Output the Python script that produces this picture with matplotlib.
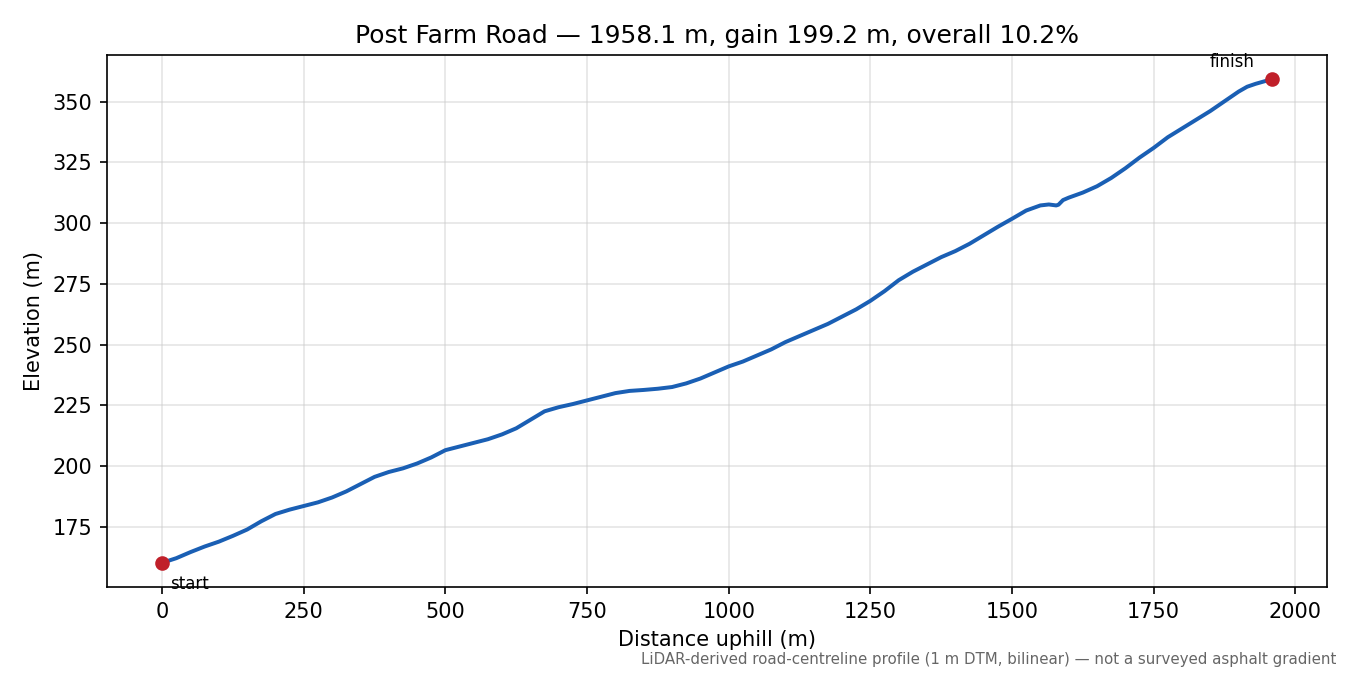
import numpy as np
import matplotlib.pyplot as plt

road_name = "Post Farm Road"

distance_m = [0, 25, 50, 75, 100, 125, 150, 175, 200, 225, 250, 275, 300, 325,
              350, 375, 400, 425, 450, 475, 500, 525, 550, 575, 600, 625, 650,
              675, 700, 725, 750, 775, 800, 825, 850, 875, 900, 925, 950, 975,
              1000, 1025, 1050, 1075, 1100, 1125, 1150, 1175, 1200, 1225, 1250,
              1275, 1300, 1325, 1350, 1375, 1400, 1425, 1450, 1475, 1500, 1525,
              1550, 1565, 1578, 1582, 1590, 1600, 1625, 1650, 1675, 1700, 1725,
              1750, 1775, 1800, 1825, 1850, 1875, 1900, 1915, 1930, 1945, 1958.1]
elevation_m = [160.1, 162.0, 164.5, 166.8, 168.8, 171.2, 173.8, 177.2, 180.2,
               182.0, 183.5, 185.0, 187.0, 189.5, 192.5, 195.5, 197.5, 199.0,
               201.0, 203.5, 206.5, 208.0, 209.5, 211.0, 213.0, 215.5, 219.0,
               222.5, 224.2, 225.5, 227.0, 228.5, 230.0, 230.9, 231.3, 231.8,
               232.5, 234.0, 236.0, 238.5, 241.0, 243.0, 245.5, 248.0, 251.0,
               253.5, 256.0, 258.5, 261.5, 264.5, 268.0, 272.0, 276.5, 280.0,
               283.0, 286.0, 288.5, 291.5, 295.0, 298.5, 301.8, 305.2, 307.3,
               307.7, 307.3, 307.6, 309.5, 310.5, 312.6, 315.2, 318.6, 322.6,
               327.0, 331.0, 335.4, 339.0, 342.6, 346.2, 350.2, 354.2, 356.2,
               357.4, 358.4, 359.3]

footnote = "LiDAR-derived road-centreline profile (1 m DTM, bilinear) \u2014 not a surveyed asphalt gradient"

length = distance_m[-1]
gain = elevation_m[-1] - elevation_m[0]
grade = 100 * gain / length

fig, ax = plt.subplots(figsize=(9, 4.5), dpi=150)
fig.subplots_adjust(left=0.079, right=0.983, top=0.9185, bottom=0.1304)

ax.plot(distance_m, elevation_m, color='#1a5fb4', lw=1.9)
ax.plot([distance_m[0], distance_m[-1]], [elevation_m[0], elevation_m[-1]],
        'o', color='#c0202a', ms=6, zorder=3)

ax.annotate("start", (distance_m[0], elevation_m[0]), xytext=(4, -6),
            textcoords='offset points', ha='left', va='top', fontsize=8,
            annotation_clip=False).set_clip_on(True)
ax.annotate("finish", (distance_m[-1], elevation_m[-1]), xytext=(-19, 4),
            textcoords='offset points', ha='center', va='bottom', fontsize=8)

ax.grid(True, color='#cccccc', alpha=0.5, lw=0.8)
ax.set_xlabel("Distance uphill (m)")
ax.set_ylabel("Elevation (m)")
ax.set_title(f"{road_name} \u2014 {length:.1f} m, gain {gain:.1f} m, overall {grade:.1f}%")

fig.text(0.99, 0.012, footnote, ha='right', va='bottom', fontsize=7.2, color='#666666')

plt.savefig("out.png", dpi=150)
